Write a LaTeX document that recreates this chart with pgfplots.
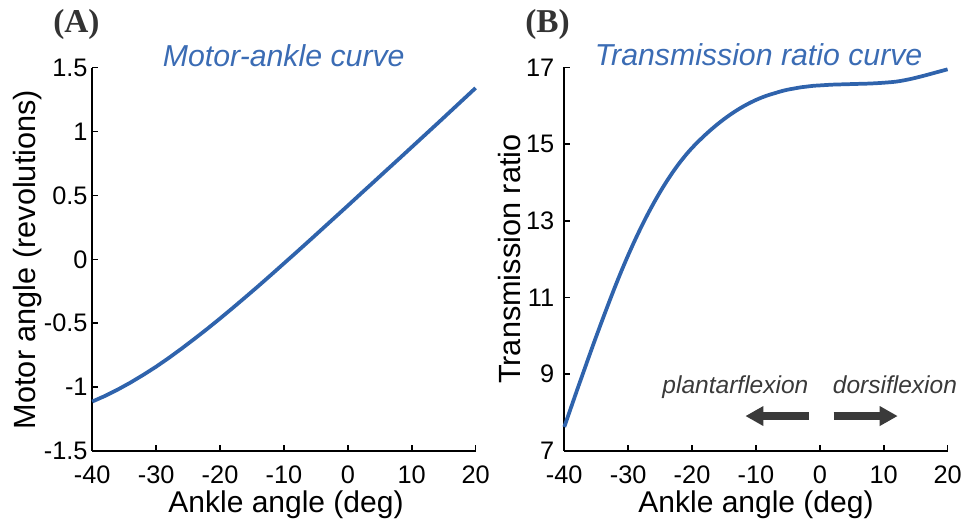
\documentclass[border=0pt]{standalone}
\usepackage{pgfplots}
\pgfplotsset{compat=1.18}
\usepackage{fontspec}
\setmainfont{Liberation Sans}
\newfontfamily\panelfont{Liberation Serif}
\usetikzlibrary{arrows.meta}

\definecolor{curveblue}{RGB}{47,99,172}
\definecolor{titleblue}{RGB}{59,108,180}
\definecolor{arrowgray}{RGB}{58,58,58}
\definecolor{lettergray}{RGB}{51,51,51}

\pgfplotsset{
  panel/.style={
    scale only axis, width=287.5pt, height=287.5pt,
    axis x line=bottom, axis y line=left,
    axis line style={-, line width=1.2pt, black},
    tick align=inside, major tick length=4.5pt,
    tick style={black, line width=1.2pt},
    tick label style={font=\fontsize{19}{19}\selectfont},
    xticklabel style={yshift=-7.5pt},
    /pgf/number format/assume math mode=true,
    xmin=-40, xmax=20, xtick={-40,-30,-20,-10,0,10,20},
    clip=false,
  },
  curve/.style={curveblue, line width=2.8pt, no markers},
}

% motor angle (revolutions) versus ankle angle (deg)
\pgfplotstableread{
x y
-40 -1.113
-38 -1.069
-36 -1.019
-34 -0.964
-32 -0.904
-30 -0.840
-28 -0.771
-26 -0.698
-24 -0.622
-22 -0.544
-20 -0.463
-18 -0.380
-16 -0.295
-14 -0.209
-12 -0.121
-10 -0.032
-8 0.057
-6 0.147
-4 0.238
-2 0.329
0 0.420
2 0.512
4 0.603
6 0.695
8 0.786
10 0.878
12 0.970
14 1.062
16 1.155
18 1.248
20 1.341
}\motortable

% transmission ratio versus ankle angle (deg)
\pgfplotstableread{
x y
-40 7.62
-39 8.10
-38 8.58
-37 9.05
-36 9.52
-35 9.98
-34 10.43
-33 10.87
-32 11.30
-31 11.71
-30 12.10
-29 12.47
-28 12.82
-27 13.15
-26 13.46
-25 13.75
-24 14.02
-23 14.27
-22 14.50
-21 14.71
-20 14.90
-19 15.07
-18 15.23
-17 15.38
-16 15.52
-15 15.65
-14 15.77
-13 15.88
-12 15.98
-11 16.07
-10 16.15
-9 16.22
-8 16.28
-7 16.33
-6 16.38
-5 16.42
-4 16.45
-3 16.48
-2 16.50
-1 16.52
0 16.53
2 16.55
4 16.56
6 16.57
8 16.58
10 16.60
12 16.63
14 16.69
16 16.77
18 16.86
20 16.95
}\ratiotable

\begin{document}
\begin{tikzpicture}
\path[use as bounding box] (0,0) rectangle (723pt,390.75pt);

\begin{axis}[panel, at={(69.2pt,52.5pt)}, anchor=south west,
  ymin=-1.5, ymax=1.5, ytick={-1.5,-1,-0.5,0,0.5,1,1.5}]
  \addplot[curve] table[x=x, y=y] {\motortable};
\end{axis}

\begin{axis}[panel, at={(423.2pt,52.7pt)}, anchor=south west,
  ymin=7, ymax=17, ytick={7,9,11,13,15,17},
  yticklabel style={xshift=-4pt}]
  \addplot[curve, smooth] table[x=x, y=y] {\ratiotable};
  \node[anchor=base west, inner sep=0, text=arrowgray,
    font=\fontsize{18.4}{22}\selectfont\itshape] at (axis cs:-24.67,8.50) {plantarflexion};
  \node[anchor=base west, inner sep=0, text=arrowgray,
    font=\fontsize{18.4}{22}\selectfont\itshape] at (axis cs:2.0,8.50) {dorsiflexion};
  \draw[arrowgray, line width=6pt, -{Triangle[length=13.5pt,width=14pt]}]
    (axis cs:-1.77,7.905) -- (axis cs:-11.65,7.905);
  \draw[arrowgray, line width=6pt, -{Triangle[length=13.5pt,width=14pt]}]
    (axis cs:2.15,7.905) -- (axis cs:12.19,7.905);
\end{axis}

% axis labels
\node[anchor=base, inner sep=0, font=\fontsize{22.5}{27}\selectfont] at (214.5pt,6pt) {Ankle angle (deg)};
\node[anchor=base, inner sep=0, font=\fontsize{22.5}{27}\selectfont] at (567pt,6pt) {Ankle angle (deg)};
\node[anchor=base, inner sep=0, rotate=90, font=\fontsize{23}{27}\selectfont] at (27pt,196.1pt) {Motor angle (revolutions)};
\node[anchor=base, inner sep=0, rotate=90, font=\fontsize{23}{27}\selectfont] at (390pt,196.4pt) {Transmission ratio};

% panel titles
\node[anchor=base west, inner sep=0, text=titleblue, font=\fontsize{22.7}{27}\selectfont\itshape] at (122pt,340.7pt) {Motor-ankle curve};
\node[anchor=base west, inner sep=0, text=titleblue, font=\fontsize{22.7}{27}\selectfont\itshape] at (446pt,341.5pt) {Transmission ratio curve};

% panel letters
\node[anchor=base west, inner sep=0, text=lettergray, font=\panelfont\bfseries\fontsize{25}{29}\selectfont] at (39.75pt,366pt) {(A)};
\node[anchor=base west, inner sep=0, text=lettergray, font=\panelfont\bfseries\fontsize{25}{29}\selectfont] at (393.75pt,366pt) {(B)};
\end{tikzpicture}
\end{document}
